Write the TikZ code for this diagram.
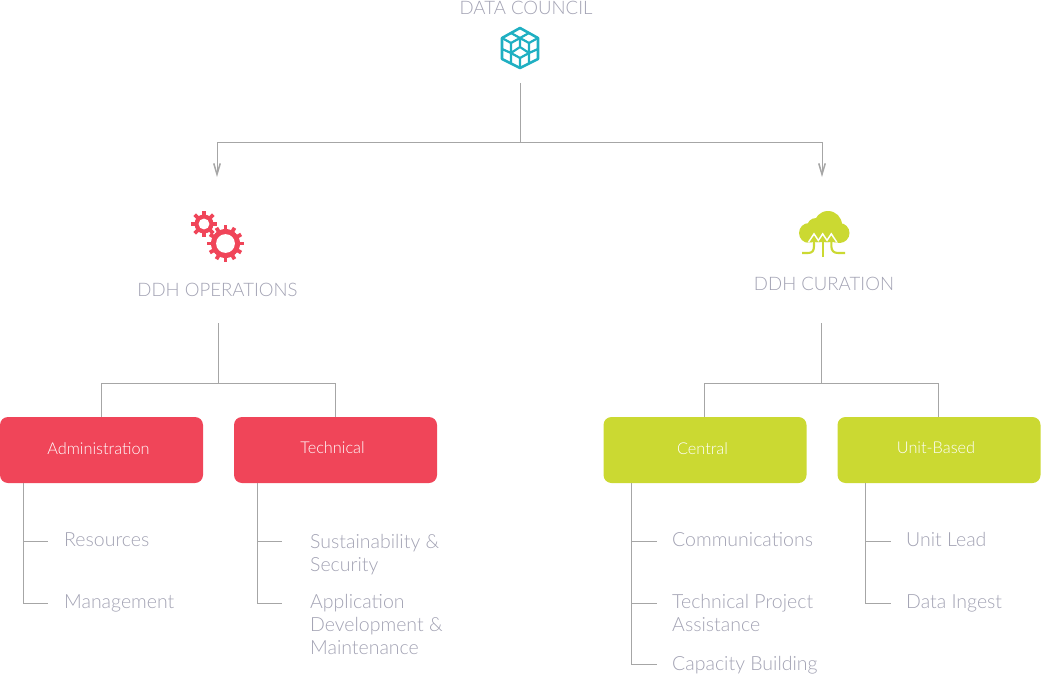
\documentclass[tikz,border=0pt]{standalone}
\usepackage{fontspec}
\setmainfont{Lato}[UprightFont=* Light]
\usetikzlibrary{positioning}
\usetikzlibrary{arrows.meta}
\definecolor{ddhred}{HTML}{F04559}
\definecolor{ddhgreen}{HTML}{CBD932}
\definecolor{ddhteal}{HTML}{1FAFC2}
\definecolor{ddhtext}{HTML}{A2A2B3}
\definecolor{ddhline}{HTML}{A6A6A6}
\tikzset{
  head/.style={text=ddhtext,font=\fontsize{18.6}{22}\selectfont,inner sep=0pt},
  unitbox/.style={minimum width=203,minimum height=66,rounded corners=8,inner sep=0pt},
  boxlabel/.style={text=white,font=\fontsize{16.3}{20}\selectfont,inner sep=0pt},
  leaf/.style={anchor=west,text=ddhtext,font=\fontsize{19.5}{23}\selectfont,inner sep=0pt,align=left},
  line/.style={draw=ddhline,line width=0.9},
  arrowline/.style={line,-{Straight Barb[length=11,width=6.5,line width=1.5]}}
}
\begin{document}
\begin{tikzpicture}[x=1pt,y=-1pt]
\useasboundingbox (0,0) rectangle (1041,674);

%naglowki
\node[head] (council) at (526,8) {DATA COUNCIL};
\node[head] (ops) at (217.5,290) {DDH OPERATIONS};
\node[head] (cur) at (824,284) {DDH CURATION};

%ikona rady
\draw[ddhteal,line width=2.6,line join=round]
	(520,28)-- (538,38)-- (538,59)-- (520,68)-- (502,59)-- (502,38)-- cycle;
\draw[ddhteal,line width=2.2,line join=round]
	(502,38)-- (511,43)-- (520,38)-- (529,43)-- (538,38) (511,33)-- (520,38)-- (529,33)
	(511,43)-- (511,53) (529,43)-- (529,53) (520,38)-- (520,46)
	(502,49)-- (511,53)-- (520,47)-- (529,53)-- (538,49)
	(511,53)-- (520,58)-- (529,53) (520,58)-- (520,68) (511,53)-- (511,64) (529,53)-- (529,64);

%ikona kol zebatych
\foreach \x/\y/\r/\w/\n in {204/224/9.5/3.6/8,225.5/243.5/14.5/3.8/12}{
    \fill[ddhred] (\x,\y) circle (\r);
    \pgfmathsetmacro{\da}{360/\n}
    \foreach \i in {1,...,\n}
        \fill[ddhred,rotate around={\i*\da:(\x,\y)}] (\x-\w/2,\y) rectangle (\x+\w/2,\y-\r-3.6);
}
\fill[white] (204,224) circle (5.4);
\fill[white] (225.5,243.5) circle (9.4);

%ikona chmury
\fill[ddhgreen] (809,233) circle (10) (816,227) circle (9) (828,225) circle (14) (839.5,233) circle (10);
\fill[ddhgreen] (809,228) rectangle (840,243);
\foreach \x in {814,822.7,831.3}{
    \draw[white,line width=4.8] (\x,254)-- (\x,240);
    \fill[white] (\x,232.5)-- (\x+6.5,242.5)-- (\x-6.5,242.5)-- cycle;
}
\draw[ddhgreen,line width=2.1] (802,253)-- (808,253) .. controls (812,253) and (814,251) .. (814,246)-- (814,241);
\draw[ddhgreen,line width=2.1] (845,253)-- (838,253) .. controls (834,253) and (831.3,251) .. (831.3,246)-- (831.3,241);
\draw[ddhgreen,line width=2.1] (822.7,257)-- (822.7,241);
\foreach \x in {814,822.7,831.3}
    \fill[ddhgreen] (\x,235.5)-- (\x+4.4,242)-- (\x-4.4,242)-- cycle;

%skrzynki
\node[unitbox,fill=ddhred] (adm) at (101.5,450) {};
\node[unitbox,fill=ddhred] (tech) at (335.5,450) {};
\node[unitbox,fill=ddhgreen] (central) at (705,450) {};
\node[unitbox,fill=ddhgreen] (unit) at (939,450) {};
\node[boxlabel] (admlabel) at (98.5,449) {Administration};
\node[boxlabel] (techlabel) at (332.5,448) {Technical};
\node[boxlabel] (centrallabel) at (702.5,449) {Central};
\node[boxlabel] (unitlabel) at (936,448) {Unit-Based};

%punkty laczace
\coordinate (councilout) at (520,83);
\coordinate (councilsplit) at (520,142);
\coordinate (opsin) at (217,177);
\coordinate (curin) at (822,177);
\coordinate (opsout) at (218,323);
\coordinate (opssplit) at (218,383);
\coordinate (curout) at (821,323);
\coordinate (cursplit) at (821,383);

\draw[line] (councilout)-- (councilsplit);
\draw[arrowline] (councilsplit) -| (opsin);
\draw[arrowline] (councilsplit) -| (curin);

\draw[line] (opsout)-- (opssplit);
\draw[line] (opssplit) -| ([xshift=-0.3]adm.north);
\draw[line] (opssplit) -| (tech.north);
\draw[line] (curout)-- (cursplit);
\draw[line] (cursplit) -| ([xshift=-0.4]central.north);
\draw[line] (cursplit) -| ([xshift=-0.4]unit.north);

%listy
\foreach \parent/\xa/\xb/\xt/\nm/\y/\ty/\txt in {
    adm/23/48/64/a/541/540/Resources,
    adm/23/48/64/b/603/603/Management,
    tech/257/282/310/a/541/555/{Sustainability \&\\Security},
    tech/257/282/310/b/603/624.5/{Application\\Development \&\\Maintenance},
    central/631/657/672/a/541/540/Communications,
    central/631/657/672/b/603/612.5/{Technical Project\\Assistance},
    central/631/657/672/c/664/665/Capacity Building,
    unit/865/891/906/a/541/539.5/Unit Lead,
    unit/865/891/906/b/603/603/Data Ingest}{
    \coordinate (\parent top) at (\xa,483);
    \coordinate (\parent\nm) at (\xb,\y);
    \draw[line] (\parent top) |- (\parent\nm);
    \node[leaf] (\parent\nm label) at (\xt,\ty) {\txt};
}

%end
\end{tikzpicture}
\end{document}
